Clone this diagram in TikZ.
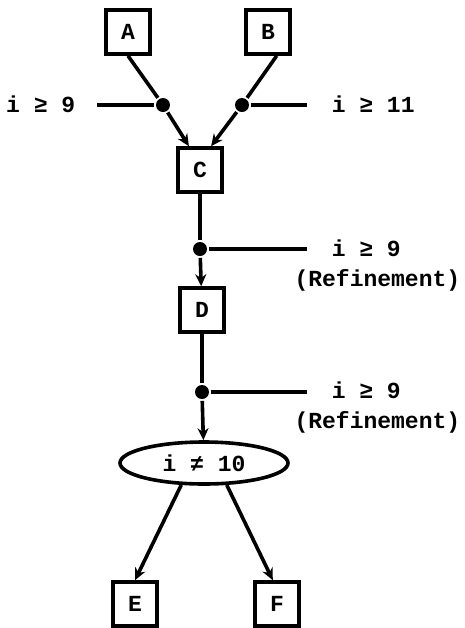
\documentclass[tikz,border=0pt]{standalone}
\usepackage{fontspec}
\setmainfont{Liberation Mono}
\usetikzlibrary{arrows.meta,shapes.geometric}
\tikzset{
  blk/.style={draw,minimum size=22pt,inner sep=0pt},
  dot/.style={circle,fill,inner sep=0pt,minimum size=7pt},
  lbl/.style={inner sep=0pt},
}
\begin{document}
\begin{tikzpicture}[x=0.5pt,y=-0.5pt,line width=1.8pt,
  font=\fontsize{11.5}{13}\selectfont\bfseries,
  >={Stealth[length=6pt,width=5.5pt]}]
        \useasboundingbox (0,0) rectangle (465,628);
        \node[blk](a) at (128,32) {A};
        \node[blk](b) at (268,32) {B};
        \node[blk](c) at (200,170) {C};
        \node[blk](d) at (202,310) {D};
        \node[draw,ellipse,minimum width=84pt,minimum height=21pt,inner sep=0pt](t) at (204,463) {i ≠ 10};
        \node[blk](e) at (135,604) {E};
        \node[blk](f) at (277,604) {F};
        \node[dot](p1) at (163,105) {};
        \node[dot](p2) at (242,105) {};
        \node[dot](p3) at (200,249) {};
        \node[dot](p4) at (202,392) {};
        \node[lbl,anchor=east](l1) at (77,104) {i ≥ 9};
        \node[lbl,anchor=west](l2) at (330,104) {i ≥ 11};
        \node[lbl,anchor=west](l3) at (330,248) {i ≥ 9};
        \node[lbl,anchor=east](r1) at (462,280) {(Refinement)};
        \node[lbl,anchor=west](l4) at (330,390) {i ≥ 9};
        \node[lbl,anchor=east](r2) at (462,422) {(Refinement)};
        \draw(a.south)--(p1);
        \draw[->](p1)--(c.115);
        \draw(b.-70)--(p2);
        \draw[->](p2)--(c.65);
        \draw[shorten <=10pt](p1 -| l1.east)--(p1);
        \draw[shorten >=11.5pt](p2)--(p2 -| l2.west);
        \draw(c)--(p3);
        \draw[->](p3)--(d);
        \draw[shorten >=11.5pt](p3)--(p3 -| l3.west);
        \draw(d)--(p4);
        \draw[->](p4)--(t);
        \draw[shorten >=11.5pt](p4)--(p4 -| l4.west);
        \draw[->](t.224)--(e.north);
        \draw[->](t.-44)--(f.100);
        \end{tikzpicture}
\end{document}
